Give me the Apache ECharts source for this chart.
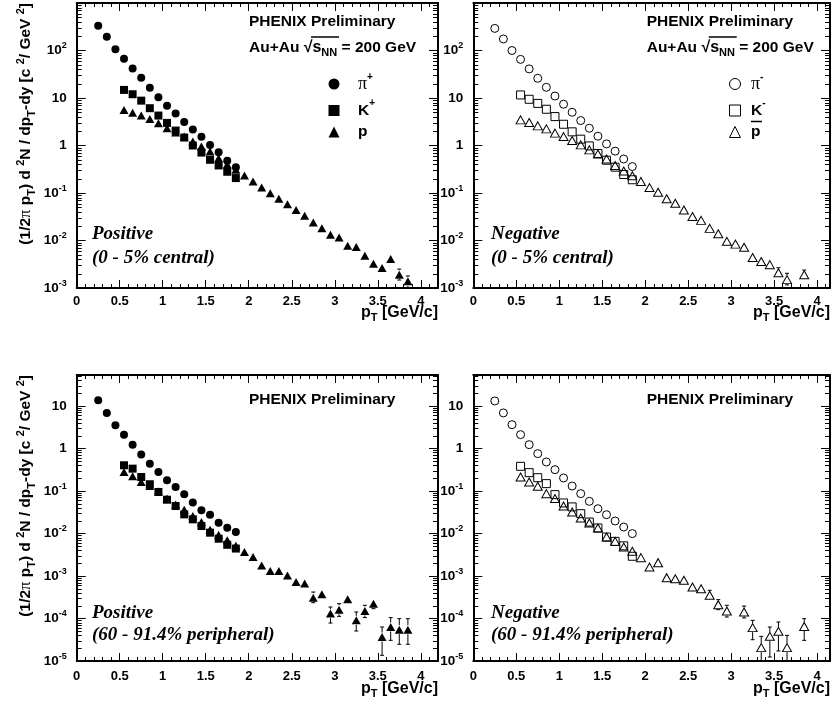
<!DOCTYPE html>
<html><head><meta charset="utf-8">
<script src="https://cdn.jsdelivr.net/npm/echarts@6/dist/echarts.min.js"></script>
<style>html,body{margin:0;padding:0;background:#fff}#c{width:831px;height:709px}</style>
</head><body><div id="c"></div>
<script>
// ---------------- data ----------------
const pT_pi = [0.25,0.35,0.45,0.55,0.65,0.75,0.85,0.95,1.05,1.15,1.25,1.35,1.45,1.55,1.65,1.75,1.85];
const pT_K  = [0.55,0.65,0.75,0.85,0.95,1.05,1.15,1.25,1.35,1.45,1.55,1.65,1.75,1.85];
const pT_p_full = [0.55,0.65,0.75,0.85,0.95,1.05,1.15,1.25,1.35,1.45,1.55,1.65,1.75,1.85,1.95,2.05,2.15,2.25,2.35,2.45,2.55,2.65,2.75,2.85,2.95,3.05,3.15,3.25,3.35,3.45,3.55,3.65,3.75,3.85];
const pT_pbar_central = [0.55,0.65,0.75,0.85,0.95,1.05,1.15,1.25,1.35,1.45,1.55,1.65,1.75,1.85,1.95,2.05,2.15,2.25,2.35,2.45,2.55,2.65,2.75,2.85,2.95,3.05,3.15,3.25,3.35,3.45,3.55,3.65,3.85];
const pT_pbar_periph = [0.55,0.65,0.75,0.85,0.95,1.05,1.15,1.25,1.35,1.45,1.55,1.65,1.75,1.85,1.95,2.05,2.15,2.25,2.35,2.45,2.55,2.65,2.75,2.85,2.95,3.15,3.25,3.35,3.45,3.55,3.65,3.85];

// 0-5% central, positive
const piPlus_central = [333,195,106,67,42,26.8,16.5,10.4,6.9,4.7,3.14,2.17,1.52,1.03,0.72,0.48,0.35];
const kPlus_central  = [14.8,12.0,8.8,6.1,4.27,2.99,2.06,1.47,1.0,0.71,0.50,0.38,0.28,0.206];
const p_central      = [5.6,4.9,4.3,3.6,2.94,2.31,1.87,1.54,1.21,0.95,0.75,0.54,0.40,0.31,0.234,0.175,0.13,0.099,0.0755,0.058,0.044,0.033,0.024,0.018,0.0132,0.0116,0.0078,0.0073,0.0048,0.00325,0.00263,0.0041,0.0019,0.00138];
const p_central_err  = [[3.75,0.00147,0.0025],[3.85,0.00100,0.00179]];

// 0-5% central, negative
const piMinus_central = [292,175,100,65,41,26,16.8,11.0,7.4,5.0,3.35,2.31,1.57,1.08,0.76,0.52,0.36];
const kMinus_central  = [11.6,9.4,7.7,5.8,4.06,2.8,1.94,1.36,0.98,0.68,0.49,0.35,0.245,0.19];
const pbar_central    = [3.46,3.04,2.59,2.24,1.82,1.54,1.27,1.03,0.81,0.66,0.52,0.38,0.29,0.23,0.175,0.13,0.104,0.0755,0.061,0.044,0.032,0.0265,0.018,0.0139,0.0096,0.0084,0.0072,0.0044,0.0036,0.0031,0.0021,0.0015,0.0019];
const pbar_central_err = [[3.55,0.00188,0.00267],[3.65,0.00116,0.00204],[3.85,0.00170,0.00239]];

// 60-91.4% peripheral, positive
const piPlus_periph = [13.5,6.8,3.47,2.1,1.22,0.72,0.435,0.278,0.177,0.123,0.083,0.053,0.035,0.0275,0.0179,0.0136,0.0108];
const kPlus_periph  = [0.40,0.333,0.212,0.143,0.094,0.062,0.044,0.028,0.0214,0.0149,0.0104,0.0075,0.0054,0.0044];
const p_periph      = [0.278,0.22,0.161,0.13,0.098,0.066,0.048,0.036,0.0256,0.0185,0.0122,0.0093,0.0069,0.0051,0.00366,0.00279,0.00177,0.0013,0.0013,0.00103,0.00072,0.00066,0.000308,0.00037,0.00013,0.000161,0.000282,0.0000903,0.00015,0.000223,0.0000366,0.000063,0.0000546,0.0000546];
const p_periph_err  = [[2.75,2.35e-4,4.19e-4],[2.85,2.92e-4,4.58e-4],[2.95,7.8e-5,1.86e-4],[3.05,1.12e-4,2.23e-4],[3.15,2.23e-4,3.5e-4],[3.25,5.07e-5,1.42e-4],[3.35,1.05e-4,2.04e-4],[3.45,1.70e-4,2.77e-4],[3.55,1.36e-5,6.3e-5],[3.65,3.06e-5,1.05e-4],[3.75,2.47e-5,9.9e-5],[3.85,2.47e-5,9.9e-5]];

// 60-91.4% peripheral, negative
const piMinus_periph = [13.0,6.8,3.6,2.1,1.22,0.75,0.478,0.315,0.201,0.13,0.086,0.0568,0.038,0.0275,0.0196,0.0141,0.0099];
const kMinus_periph  = [0.378,0.268,0.204,0.148,0.0815,0.052,0.042,0.0291,0.0185,0.0134,0.0082,0.0065,0.0051,0.0029];
const pbar_periph    = [0.212,0.161,0.128,0.086,0.066,0.044,0.0318,0.023,0.0176,0.0134,0.0082,0.0065,0.0048,0.0038,0.00269,0.00162,0.00205,0.00091,0.00086,0.00079,0.00055,0.0005,0.00035,0.000211,0.00015,0.000142,6.1e-5,2.06e-5,3.8e-5,4.98e-5,2.06e-5,6.5e-5];
const pbar_periph_err = [[2.75,2.77e-4,4.59e-4],[2.85,1.61e-4,2.77e-4],[2.95,1.08e-4,2.04e-4],[3.15,1.03e-4,1.96e-4],[3.25,3.17e-5,9.04e-5],[3.35,1e-5,3.8e-5],[3.45,1.24e-5,6.3e-5],[3.55,1.72e-5,8.26e-5],[3.65,1e-5,4.0e-5],[3.85,3.06e-5,9.9e-5]];

// tick labels / ranges
const xTickStep = 0.5;
const yRangeTop = [1e-3, 1e3];
const yRangeBottom = [1e-5, 53];

// ---------------- chart ----------------
const sans = "'Liberation Sans', Arial, Helvetica, sans-serif";
const serif = "'Liberation Serif', 'Times New Roman', serif";

const panels = [
  {left:76.7,  top:3,   width:361.3, height:285, xmax:4.2,  y:yRangeTop},
  {left:473.3, top:3,   width:356.7, height:285, xmax:4.15, y:yRangeTop},
  {left:76.7,  top:375, width:361.3, height:286, xmax:4.2,  y:yRangeBottom},
  {left:473.3, top:375, width:356.7, height:286, xmax:4.15, y:yRangeBottom}
];

function logLabel(v){
  const e = Math.round(Math.log10(v));
  if (Math.abs(v/Math.pow(10,e) - 1) > 1e-6) return '';
  if (e === 0) return '{b|1}';
  if (e === 1) return '{b|10}';
  return '{b|10}{s|' + e + '}';
}

const lineStyleAxis = {color:'#000', width:2};
const grids = [], xAxes = [], yAxes = [];
panels.forEach((p, i) => {
  grids.push({left:p.left, top:p.top, width:p.width, height:p.height, show:false, containLabel:false});
});
panels.forEach((p, i) => {
  xAxes.push({type:'value', gridIndex:i, min:0, max:p.xmax, interval:xTickStep, position:'bottom',
    axisLine:{show:true, onZero:false, lineStyle:lineStyleAxis},
    axisTick:{show:true, inside:true, length:8, lineStyle:{color:'#000', width:1}},
    minorTick:{show:true, splitNumber:5, length:4, lineStyle:{color:'#000', width:1}},
    splitLine:{show:false}, minorSplitLine:{show:false},
    axisLabel:{show:true, showMaxLabel:false, margin: i < 2 ? 7 : 9, color:'#000', fontSize:13, fontWeight:'bold', fontFamily:sans,
      formatter: v => (Math.abs(v - Math.round(v)) < 1e-9 ? String(Math.round(v)) : String(v))}
  });
});
panels.forEach((p, i) => {
  xAxes.push({type:'value', gridIndex:i, min:0, max:p.xmax, interval:xTickStep, position:'top',
    axisLine:{show:true, onZero:false, lineStyle:lineStyleAxis},
    axisTick:{show:true, inside:true, length:8, lineStyle:{color:'#000', width:1}},
    minorTick:{show:true, splitNumber:5, length:4, lineStyle:{color:'#000', width:1}},
    splitLine:{show:false}, axisLabel:{show:false}});
});
panels.forEach((p, i) => {
  yAxes.push({type:'log', logBase:10, gridIndex:i, min:p.y[0], max:p.y[1], position:'left',
    axisLine:{show:true, onZero:false, lineStyle:lineStyleAxis},
    axisTick:{show:true, inside:true, length:9, lineStyle:{color:'#000', width:1}},
    splitLine:{show:false},
    axisLabel:{show:true, showMaxLabel:false, showMinLabel:true, margin:10, formatter:logLabel,
      rich:{
        b:{fontSize:13.5, fontWeight:'bold', fontFamily:sans, color:'#000', lineHeight:18},
        s:{fontSize:9, fontWeight:'bold', fontFamily:sans, color:'#000', lineHeight:9, verticalAlign:'top'}
      }}
  });
});
panels.forEach((p, i) => {
  yAxes.push({type:'log', logBase:10, gridIndex:i, min:p.y[0], max:p.y[1], position:'right',
    axisLine:{show:true, onZero:false, lineStyle:lineStyleAxis},
    axisTick:{show:true, inside:true, length:9, lineStyle:{color:'#000', width:1}},
    splitLine:{show:false}, axisLabel:{show:false}});
});

const filled = {color:'#000', opacity:1};
const open = {color:'rgba(0,0,0,0)', borderColor:'#000', borderWidth:1, opacity:1};
const markerDefs = {
  pip:{symbol:'circle', size:8, style:filled},
  kp:{symbol:'rect', size:8, style:filled},
  pp:{symbol:'triangle', size:[9,8], style:filled},
  pim:{symbol:'circle', size:8, style:open},
  km:{symbol:'rect', size:8, style:open},
  pbar:{symbol:'triangle', size:[9,8], style:open}
};

const series = [];
function addScatter(name, gi, xs, ys){
  const m = markerDefs[name];
  series.push({type:'scatter', name:name, xAxisIndex:gi, yAxisIndex:gi,
    data: xs.map((x, k) => [x, ys[k]]),
    symbol:m.symbol, symbolSize:m.size, itemStyle:m.style, z:3,
    emphasis:{disabled:true}, silent:true, clip:true});
}
function addErrors(gi, errs, xs, ys){
  const rows = errs.map(e => { const k = xs.indexOf(e[0]); return [e[0], ys[k], e[1], e[2]]; });
  series.push({type:'custom', xAxisIndex:gi, yAxisIndex:gi, data:rows, silent:true, z:2, clip:true,
    encode:{x:0, y:1},
    renderItem:(params, api) => {
      const x = api.value(0), y = api.value(1), lo = api.value(2), hi = api.value(3);
      const c = api.coord([x, y]), a = api.coord([x, lo]), b = api.coord([x, hi]);
      const gap = 4.5, cap = 2;
      const ls = {stroke:'#000', lineWidth:1};
      const ch = [];
      if (b[1] < c[1] - gap) {
        ch.push({type:'line', shape:{x1:c[0], y1:c[1]-gap, x2:b[0], y2:b[1]}, style:ls});
        ch.push({type:'line', shape:{x1:b[0]-cap, y1:b[1], x2:b[0]+cap, y2:b[1]}, style:ls});
      }
      if (a[1] > c[1] + gap) {
        ch.push({type:'line', shape:{x1:c[0], y1:c[1]+gap, x2:a[0], y2:a[1]}, style:ls});
        ch.push({type:'line', shape:{x1:a[0]-cap, y1:a[1], x2:a[0]+cap, y2:a[1]}, style:ls});
      }
      return {type:'group', children:ch};
    }});
}
// log minor ticks (axis decoration drawn through the log scale)
function addMinorTicks(gi, range){
  const vals = [];
  for (let e = Math.floor(Math.log10(range[0])); e <= Math.ceil(Math.log10(range[1])); e++) {
    for (let m = 2; m <= 9; m++) { const v = m * Math.pow(10, e); if (v > range[0] && v < range[1]) vals.push([0, v]); }
  }
  series.push({type:'custom', xAxisIndex:gi, yAxisIndex:gi, data:vals, silent:true, z:1,
    encode:{x:0, y:1},
    renderItem:(params, api) => {
      const cs = params.coordSys;
      const y = Math.round(api.coord([0, api.value(1)])[1]) + 0.5;
      const ls = {stroke:'#000', lineWidth:1};
      return {type:'group', children:[
        {type:'line', shape:{x1:cs.x, y1:y, x2:cs.x+5, y2:y}, style:ls},
        {type:'line', shape:{x1:cs.x+cs.width, y1:y, x2:cs.x+cs.width-5, y2:y}, style:ls}
      ]};
    }});
}

addScatter('pip', 0, pT_pi, piPlus_central);
addScatter('kp', 0, pT_K, kPlus_central);
addScatter('pp', 0, pT_p_full, p_central);
addErrors(0, p_central_err, pT_p_full, p_central);

addScatter('pim', 1, pT_pi, piMinus_central);
addScatter('km', 1, pT_K, kMinus_central);
addScatter('pbar', 1, pT_pbar_central, pbar_central);
addErrors(1, pbar_central_err, pT_pbar_central, pbar_central);

addScatter('pip', 2, pT_pi, piPlus_periph);
addScatter('kp', 2, pT_K, kPlus_periph);
addScatter('pp', 2, pT_p_full, p_periph);
addErrors(2, p_periph_err, pT_p_full, p_periph);

addScatter('pim', 3, pT_pi, piMinus_periph);
addScatter('km', 3, pT_K, kMinus_periph);
addScatter('pbar', 3, pT_pbar_periph, pbar_periph);
addErrors(3, pbar_periph_err, pT_pbar_periph, pbar_periph);

panels.forEach((p, i) => addMinorTicks(i, p.y));

function legendRich(gap){
  return {
    g:{width:gap, fontSize:10, lineHeight:24},
    pi:{fontFamily:serif, fontSize:18, color:'#000', lineHeight:24},
    t:{fontFamily:sans, fontWeight:'bold', fontSize:15.5, color:'#000', lineHeight:24},
    sup:{fontFamily:sans, fontWeight:'bold', fontSize:10, color:'#000', lineHeight:12, verticalAlign:'top'}
  };
}
const legendNames = {pip:'{pi|π}{sup|+}', kp:'{t|K}{sup|+}', pp:'{t|p}', pim:'{pi|π}{sup|-}', km:'{t|K}{sup|-}', pbar:'{t|p}'};
function legend(left, gap, names){
  return {left:left, top:72, padding:0, orient:'vertical', itemWidth:11, itemHeight:11, itemGap:5.5,
    symbolKeepAspect:true,
    selectedMode:false, data:names, formatter: n => '{g| }' + legendNames[n],
    itemStyle:{borderWidth:1},
    textStyle:{rich:legendRich(gap)}};
}

function txt(x, y, text, font, rich, extra){
  return Object.assign({type:'text', x:x, y:y, silent:true,
    style:{text:text, font:font, fill:'#000', align:'left', verticalAlign:'middle', rich:rich}}, extra || {});
}
const headRich = {
  h:{fontFamily:sans, fontWeight:'bold', fontSize:15.5, color:'#000', lineHeight:20},
  r:{fontFamily:sans, fontWeight:'bold', fontSize:16, color:'#000', lineHeight:20},
  sub:{fontFamily:sans, fontWeight:'bold', fontSize:11, color:'#000', lineHeight:11, verticalAlign:'bottom'}
};
const energyText = '{h|Au+Au }{r|√s}{sub|NN}{h| = 200 GeV}';
const titleRich = {
  a:{fontFamily:sans, fontWeight:'bold', fontSize:15.5, color:'#000', lineHeight:22},
  pi:{fontFamily:serif, fontSize:16.5, color:'#000', lineHeight:22},
  sub:{fontFamily:sans, fontWeight:'bold', fontSize:11, color:'#000', lineHeight:11, verticalAlign:'bottom'},
  sup:{fontFamily:sans, fontWeight:'bold', fontSize:11, color:'#000', lineHeight:11, verticalAlign:'top'}
};
const yTitle = '{a|(1/2}{pi|π}{a| p}{sub|T}{a|) d }{sup|2}{a|N / dp}{sub|T}{a|-dy [c }{sup|2}{a|/ GeV }{sup|2}{a|]}';
const xTitle = '{a|p}{sub|T}{a| [GeV/c]}';
const xRich = {
  a:{fontFamily:sans, fontWeight:'bold', fontSize:16, color:'#000', lineHeight:20},
  sub:{fontFamily:sans, fontWeight:'bold', fontSize:11, color:'#000', lineHeight:11, verticalAlign:'bottom'}
};
const labFont = "italic bold 19px " + serif;

const graphic = [
  txt(249, 22, '{h|PHENIX Preliminary}', null, headRich),
  txt(249, 48, energyText, null, headRich),
  txt(646.7, 22, '{h|PHENIX Preliminary}', null, headRich),
  txt(646.7, 48, energyText, null, headRich),
  txt(249, 400, '{h|PHENIX Preliminary}', null, headRich),
  txt(646.7, 400, '{h|PHENIX Preliminary}', null, headRich),
  txt(92, 234, 'Positive', labFont),
  txt(92, 258, '(0 - 5% central)', labFont),
  txt(491, 234, 'Negative', labFont),
  txt(491, 258, '(0 - 5% central)', labFont),
  txt(92, 612.7, 'Positive', labFont),
  txt(92, 635, '(60 - 91.4% peripheral)', labFont),
  txt(491, 612.7, 'Negative', labFont),
  txt(491, 635, '(60 - 91.4% peripheral)', labFont),
  // axis titles
  {type:'text', x:26, y:3, rotation:Math.PI/2, silent:true, style:{text:yTitle, rich:titleRich, align:'right', verticalAlign:'middle'}},
  {type:'text', x:26, y:375, rotation:Math.PI/2, silent:true, style:{text:yTitle, rich:titleRich, align:'right', verticalAlign:'middle'}},
  {type:'text', x:438, y:313, silent:true, style:{text:xTitle, rich:xRich, align:'right', verticalAlign:'middle'}},
  {type:'text', x:830, y:313, silent:true, style:{text:xTitle, rich:xRich, align:'right', verticalAlign:'middle'}},
  {type:'text', x:438, y:689, silent:true, style:{text:xTitle, rich:xRich, align:'right', verticalAlign:'middle'}},
  {type:'text', x:830, y:689, silent:true, style:{text:xTitle, rich:xRich, align:'right', verticalAlign:'middle'}},
  // overlines of the square root, underline of K
  {type:'line', silent:true, shape:{x1:311, y1:37, x2:339, y2:37}, style:{stroke:'#000', lineWidth:1.5}},
  {type:'line', silent:true, shape:{x1:708.7, y1:37, x2:736.7, y2:37}, style:{stroke:'#000', lineWidth:1.5}},
  {type:'line', silent:true, shape:{x1:751, y1:121.5, x2:762, y2:121.5}, style:{stroke:'#000', lineWidth:1.5}}
];

const chart = echarts.init(document.getElementById('c'), null, {renderer:'canvas'});
chart.setOption({
  animation:false,
  backgroundColor:'#fff',
  grid:grids, xAxis:xAxes, yAxis:yAxes, series:series,
  legend:[legend(328.5, 13.5, ['pip','kp','pp']), legend(729, 5.5, ['pim','km','pbar'])],
  graphic:graphic
});
</script>
</body></html>
